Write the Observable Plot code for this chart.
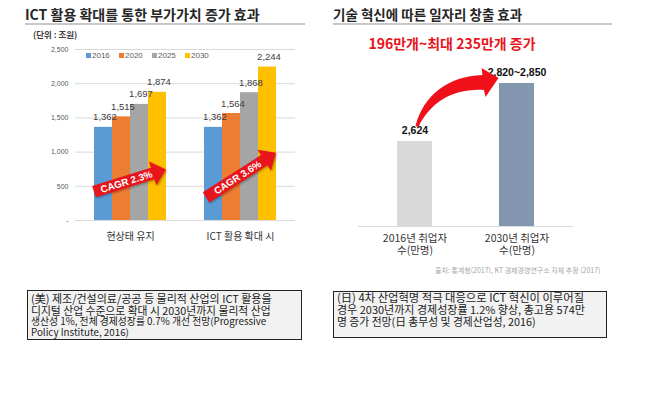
<!DOCTYPE html>
<html><head><meta charset="utf-8">
<script src="https://cdn.jsdelivr.net/npm/d3@7"></script>
<script src="https://cdn.jsdelivr.net/npm/@observablehq/plot@0.6"></script>
<style>
body{margin:0;background:#fff;}
#root{position:relative;width:658px;height:394px;overflow:hidden;background:#fff;font-family:"Noto Sans CJK KR",sans-serif;color:#222;}
.abs{position:absolute;white-space:nowrap;line-height:1;}
.title{font-weight:bold;color:#262626;}
.rule{position:absolute;height:2px;background:#c8c8c8;}
.box{position:absolute;box-sizing:border-box;border:1.5px solid #222;background:#f2f2f2;padding:0 0 0 3px;color:#1a1a1a;}
.box div{white-space:nowrap;}
.lg{position:absolute;font-family:"Liberation Sans",sans-serif;font-size:8px;color:#595959;line-height:1;white-space:nowrap;}
.lg i{display:inline-block;width:5px;height:5px;margin-right:1px;vertical-align:0px;}
svg{position:absolute;}
</style></head><body><div id="root"></div><script>
// ---- Left chart data ----
const groups = ["현상태 유지", "ICT 활용 확대 시"];
const years = ["2016", "2020", "2025", "2030"];
const valuesStatusQuo = [1362, 1515, 1697, 1874];
const valuesExpansion = [1362, 1564, 1868, 2244];
const yearColors = ["#5b9bd5", "#ed7d31", "#a5a5a5", "#ffc000"];
const yTicks = [0, 500, 1000, 1500, 2000, 2500];
const cagrLabels = ["CAGR 2.3%", "CAGR 3.6%"];
const cagrFrom = [415, 330];
const cagrTo = [740, 985];

// ---- Right chart data ----
const jobCats = ["2016년 취업자\n수(만명)", "2030년 취업자\n수(만명)"];
const jobValues = [2624, 2835];
const jobLabels = ["2,624", "2,820~2,850"];
const jobColors = ["#d9d9d9", "#8497b0"];
const jobBase = 2315;

const root = document.getElementById("root");
function addDiv(cls, html, style) {
  const d = document.createElement("div");
  d.className = cls; d.innerHTML = html; d.setAttribute("style", style);
  root.appendChild(d); return d;
}

// Titles
addDiv("abs title", "ICT 활용 확대를 통한 부가가치 증가 효과", "left:25px;top:7px;font-size:14px;");
addDiv("rule", "", "left:25px;top:23px;width:280px;");
addDiv("abs", "(단위 : 조원)", "left:33px;top:29.5px;font-size:8.5px;font-weight:bold;color:#404040;");
addDiv("abs title", "기술 혁신에 따른 일자리 창출 효과", "left:333px;top:7.5px;font-size:13.5px;");
addDiv("rule", "", "left:333px;top:23px;width:279px;");
addDiv("abs", "196만개~최대 235만개 증가", "left:452px;top:36px;transform:translateX(-50%);font-size:14px;font-weight:bold;color:#e8141b;");

// Left plot
const rows = [];
groups.forEach((g, gi) => years.forEach((y, yi) =>
  rows.push({group: g, year: y, value: [valuesStatusQuo, valuesExpansion][gi][yi]})));

const left = Plot.plot({
  width: 310, height: 250,
  marginLeft: 74, marginRight: 15, marginTop: 49, marginBottom: 30,
  style: {fontFamily: '"Liberation Sans","Noto Sans CJK KR",sans-serif', fontSize: "7px", color: "#595959", background: "transparent"},
  facet: {data: rows, x: "group"},
  fx: {domain: groups, padding: 0, axis: null},
  x: {domain: years, paddingInner: 0, paddingOuter: 1, axis: null},
  y: {domain: [0, 2500], ticks: yTicks, tickFormat: d => d === 0 ? "-" : d3.format(",")(d), tickSize: 0, tickPadding: 7, label: null},
  color: {domain: years, range: yearColors},
  marks: [
    Plot.ruleY(yTicks, {stroke: "#d9d9d9", strokeWidth: 1}),
    Plot.barY(rows, {x: "year", y: "value", fill: "year"}),
    Plot.text(rows, {x: "year", y: "value", text: d => d3.format(",")(d.value), dy: -10, dx: 1.5, fontSize: 9.5, fill: "#404040"}),
    Plot.text(rows, {filter: d => d.year === years[0], text: "group", frameAnchor: "bottom", lineAnchor: "top", dy: 12, fontSize: 10, fill: "#333", fontFamily: "Noto Sans CJK KR"})
  ]
});
left.style.left = "0px"; left.style.top = "0px";
root.appendChild(left);

// Legend (colors from the plot's color scale)
const cscale = left.scale("color");
years.forEach((y, i) => {
  addDiv("lg", `<i style="background:${cscale.apply(y)}"></i>${y}`, `left:${86 + i * 33}px;top:51.5px;`);
});

// Right plot
const jobRows = jobCats.map((c, i) => ({cat: c, value: jobValues[i], label: jobLabels[i]}));
const right = Plot.plot({
  width: 328, height: 260,
  marginLeft: 28, marginRight: 85, marginTop: 83, marginBottom: 34,
  style: {fontFamily: '"Liberation Sans","Noto Sans CJK KR",sans-serif', background: "transparent"},
  x: {domain: jobCats, paddingInner: 0.658, paddingOuter: 0.379, axis: null},
  y: {domain: [jobBase, jobValues[1]], axis: null},
  color: {domain: jobCats, range: jobColors},
  marks: [
    Plot.barY(jobRows, {x: "cat", y1: jobBase, y2: "value", fill: "cat"}),
    Plot.ruleY([jobBase], {stroke: "#d9d9d9"}),
    Plot.text(jobRows, {x: "cat", y: "value", text: "label", dy: -11, fontWeight: "bold", fontSize: 10.5, fill: "#111"}),
    Plot.text(jobRows, {x: "cat", text: "cat", frameAnchor: "bottom", lineAnchor: "top", dy: 6.5, fontSize: 10.5, lineHeight: 1.15, fill: "#333", fontFamily: "Noto Sans CJK KR"})
  ]
});
right.style.left = "330px"; right.style.top = "0px";
root.appendChild(right);

addDiv("abs", "출처: 통계청(2017), KT 경제경영연구소 자체 추정 (2017)", "left:435px;top:266.5px;font-size:7px;color:#a6a6a6;");

// Text boxes
addDiv("box",
  `<div style="font-size:11px;line-height:12px;margin-top:0.5px">(美) 제조/건설의료/공공 등 물리적 산업의 ICT 활용을</div>
   <div style="font-size:10.8px;line-height:12px">디지털 산업 수준으로 확대 시 2030년까지 물리적 산업</div>
   <div style="font-size:9.8px;line-height:11.5px">생산성 1%, 전체 경제성장률 0.7% 개선 전망(Progressive</div>
   <div style="font-size:9.8px;line-height:11.5px">Policy Institute, 2016)</div>`,
  "left:27px;top:290px;width:275px;height:50px;");
addDiv("box",
  `<div style="font-size:11.3px;line-height:12px;margin-top:-1px">(日) 4차 산업혁명 적극 대응으로 ICT 혁신이 이루어질</div>
   <div style="font-size:11px;line-height:12px">경우 2030년까지 경제성장률 1.2% 향상, 총고용 574만</div>
   <div style="font-size:10.8px;line-height:12px">명 증가 전망(日 총무성 및 경제산업성, 2016)</div>`,
  "left:333px;top:291px;width:274px;height:47px;");

// Overlay for annotation arrows
const NS = "http://www.w3.org/2000/svg";
const ov = document.createElementNS(NS, "svg");
ov.setAttribute("width", 658); ov.setAttribute("height", 394);
ov.setAttribute("style", "left:0;top:0;pointer-events:none;");
ov.innerHTML = `<defs><filter id="sh" x="-20%" y="-20%" width="140%" height="140%"><feDropShadow dx="1" dy="1" stdDeviation="0.8" flood-color="#000" flood-opacity="0.35"/></filter></defs>`;
root.appendChild(ov);

const rootBox = root.getBoundingClientRect();
const barRects = Array.from(left.querySelectorAll('g[aria-label="bar"] rect'))
  .map(r => r.getBoundingClientRect())
  .map(b => ({left: b.left - rootBox.left, right: b.right - rootBox.left}))
  .sort((a, b) => a.left - b.left);
const ly = left.scale("y");

function blockArrow(A, P, sw, hw, hl) {
  const dx = P[0] - A[0], dy = P[1] - A[1], L = Math.hypot(dx, dy);
  const u = [dx / L, dy / L], n = [-u[1], u[0]];
  const B = [P[0] - u[0] * hl, P[1] - u[1] * hl];
  const pt = (p, k) => [p[0] + n[0] * k, p[1] + n[1] * k];
  const pts = [pt(A, sw / 2), pt(B, sw / 2), pt(B, hw / 2), P, pt(B, -hw / 2), pt(B, -sw / 2), pt(A, -sw / 2)];
  return {d: "M" + pts.map(p => p.map(v => v.toFixed(2)).join(",")).join("L") + "Z", u, L};
}

cagrLabels.forEach((lab, i) => {
  const bars = barRects.slice(i * 4, i * 4 + 4);
  const A = [bars[0].left + (i === 0 ? 0 : 2), ly.apply(cagrFrom[i])];
  const P = [bars[3].right, ly.apply(cagrTo[i])];
  const ar = blockArrow(A, P, 12, 25, 14);
  const path = document.createElementNS(NS, "path");
  path.setAttribute("d", ar.d); path.setAttribute("fill", "#e8141b"); path.setAttribute("filter", "url(#sh)");
  ov.appendChild(path);
  const ang = Math.atan2(ar.u[1], ar.u[0]) * 180 / Math.PI;
  const c = [A[0] + ar.u[0] * ar.L * 0.45, A[1] + ar.u[1] * ar.L * 0.45];
  const t = document.createElementNS(NS, "text");
  t.setAttribute("x", 0); t.setAttribute("y", 0);
  t.setAttribute("transform", `translate(${c[0]},${c[1]}) rotate(${ang})`);
  t.setAttribute("text-anchor", "middle"); t.setAttribute("dominant-baseline", "central");
  t.setAttribute("fill", "#fff"); t.setAttribute("font-weight", "bold");
  t.setAttribute("font-size", "9.8"); t.setAttribute("font-family", "Liberation Sans, sans-serif");
  t.textContent = lab;
  ov.appendChild(t);
});

// Curved red arrow in the right chart
const rx = right.scale("x"), ry = right.scale("y");
const bw = rx.bandwidth;
const T = [330 + rx.apply(jobCats[0]) + bw / 2 + 1, ry.apply(jobValues[0]) - 15];
const Pt = [330 + rx.apply(jobCats[1]) - 0.5, ry.apply(jobValues[1]) - 5];
const ddx = Pt[0] - T[0], ddy = Pt[1] - T[1];
const q = (a, b) => [T[0] + a * ddx, T[1] + b * ddy].map(v => v.toFixed(2)).join(",");
const curve = `M${q(0,0)} C${q(0.096,0.646)} ${q(0.398,1.042)} ${q(0.807,1.0625)} L${q(0.795,1.208)} L${q(1,1)} L${q(0.843,0.604)} L${q(0.825,0.75)} C${q(0.458,0.79)} ${q(0.18,0.5)} ${q(0.036,-0.02)} Z`;
const cp = document.createElementNS(NS, "path");
cp.setAttribute("d", curve); cp.setAttribute("fill", "#f0101a");
ov.appendChild(cp);
</script></body></html>
